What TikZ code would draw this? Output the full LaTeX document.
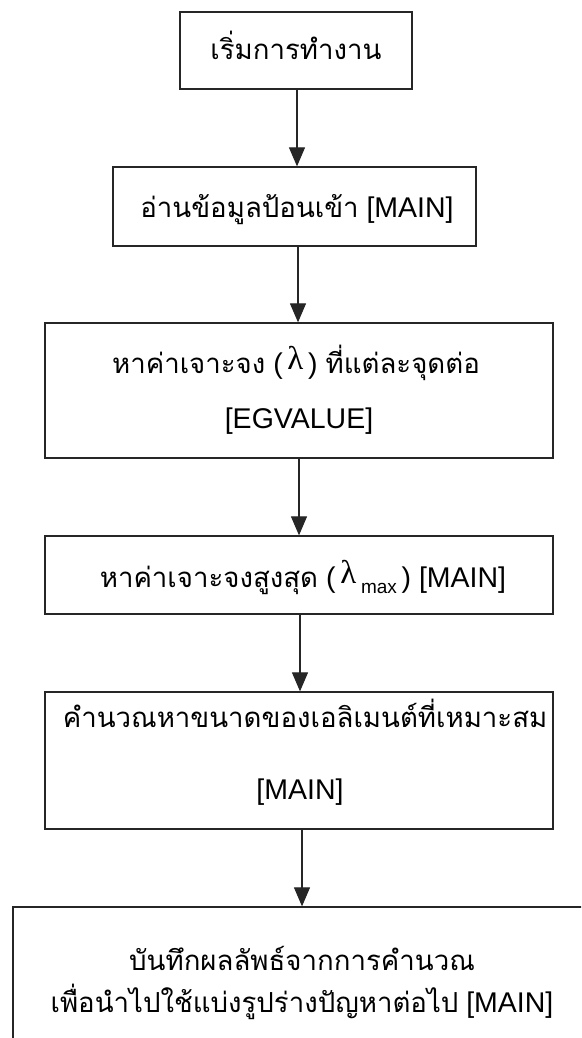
\documentclass[tikz,border=0pt]{standalone}
\usepackage{fontspec}
\setmainfont{Liberation Sans}
\newfontfamily\thaifont[Script=Thai]{Loma}
\newfontfamily\lamfont{Liberation Serif}
\usetikzlibrary{arrows.meta}
\newcommand\thx[1]{{\thaifont\fontsize{27.6}{27.6}\selectfont #1}}
\newcommand\lam{\raisebox{4pt}{\lamfont\fontsize{33}{33}\selectfont λ}}
\newcommand\subx[1]{\raisebox{-6pt}{\fontsize{19}{19}\selectfont #1}}
\tikzset{
  stepbox/.style={draw=black!85, line width=1.3pt, rectangle, inner sep=0pt, fill=none},
  label/.style={anchor=base, inner sep=0pt, font=\fontsize{28.5}{28.5}\selectfont},
  flow/.style={draw=black!85, line width=1.2pt, -{Triangle[length=19pt,width=16pt]}}
}
\begin{document}
\begin{tikzpicture}[x=1pt,y=-1pt]
\path[use as bounding box, clip] (0,0) rectangle (581,1038);
\fill[white] (0,0) rectangle (581,1038);
% boxes
\node[stepbox, minimum width=232, minimum height=77] (b1) at (296,50.5) {};
\node[stepbox, minimum width=363, minimum height=79] (b2) at (294.5,206.5) {};
\node[stepbox, minimum width=508, minimum height=135] (b3) at (299,390.5) {};
\node[stepbox, minimum width=508, minimum height=78] (b4) at (299,575) {};
\node[stepbox, minimum width=508, minimum height=137] (b5) at (299,760.5) {};
\node[stepbox, minimum width=578, minimum height=160] (b6) at (302,987) {};
% texts
\node[label] (t1) at (296,60) {\thx{เริ่มการทำงาน}};
\node[label] (t2) at (297,217) {\thx{อ่านข้อมูลป้อนเข้า} [MAIN]};
\node[label] (t3a) at (296,373) {\thx{หาค่าเจาะจง} (\,\lam\,) \thx{ที่แต่ละจุดต่อ}};
\node[label] (t3b) at (299,428) {[EGVALUE]};
\node[label] (t4) at (303,587) {\thx{หาค่าเจาะจงสูงสุด} (\,\lam\,\subx{max}\,) [MAIN]};
\node[label] (t5a) at (305,727) {\thx{คำนวณหาขนาดของเอลิเมนต์ที่เหมาะสม}};
\node[label] (t5b) at (300,799) {[MAIN]};
\node[label] (t6a) at (302,970) {\thx{บันทึกผลลัพธ์จากการคำนวณ}};
\node[label] (t6b) at (302,1012) {\thx{เพื่อนำไปใช้แบ่งรูปร่างปัญหาต่อไป} [MAIN]};
% arrows
\draw[flow] (b1.south -| 297,0) -- (b2.north -| 297,0);
\draw[flow] (b2.south -| 298,0) -- (b3.north -| 298,0);
\draw[flow] (b3.south -| 299,0) -- (b4.north -| 299,0);
\draw[flow] (b4.south -| 300,0) -- (b5.north -| 300,0);
\draw[flow] (b5.south -| 302,0) -- (b6.north -| 302,0);
\end{tikzpicture}
\end{document}
